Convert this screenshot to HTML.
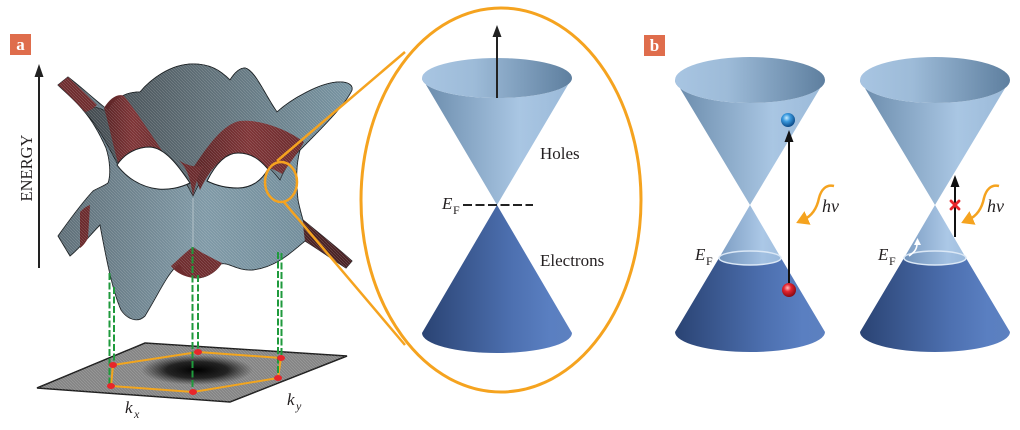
<!DOCTYPE html>
<html><head><meta charset="utf-8"><style>
html,body{margin:0;padding:0;background:#fff;}
svg{display:block;}
text{font-family:"Liberation Serif",serif;fill:#231f20;}
</style></head><body>
<svg width="1020" height="430" viewBox="0 0 1020 430" xmlns="http://www.w3.org/2000/svg">
<defs>
  <linearGradient id="uBody" x1="0" x2="1" y1="0" y2="0">
    <stop offset="0" stop-color="#6a8bab"/><stop offset="0.65" stop-color="#a9c6e3"/><stop offset="1" stop-color="#9ab9d8"/>
  </linearGradient>
  <linearGradient id="uTop" x1="0" x2="1" y1="0" y2="0">
    <stop offset="0" stop-color="#a8c5e2"/><stop offset="0.35" stop-color="#9dbbd8"/><stop offset="1" stop-color="#5e7f9f"/>
  </linearGradient>
  <linearGradient id="lBody" x1="0" x2="1" y1="0" y2="0">
    <stop offset="0" stop-color="#2a4373"/><stop offset="0.6" stop-color="#4d70b0"/><stop offset="0.85" stop-color="#5a7fc1"/><stop offset="1" stop-color="#5c80c0"/>
  </linearGradient>
  <linearGradient id="mBody" x1="0" x2="1" y1="0" y2="0">
    <stop offset="0" stop-color="#7597bf"/><stop offset="0.7" stop-color="#a7c5e5"/><stop offset="1" stop-color="#9dbcdd"/>
  </linearGradient>
  <linearGradient id="ring" x1="0" x2="1" y1="0" y2="0">
    <stop offset="0" stop-color="#2c4676"/><stop offset="1" stop-color="#5a7cbc"/>
  </linearGradient>
  <radialGradient id="blueBall" cx="0.4" cy="0.35" r="0.65">
    <stop offset="0" stop-color="#c8ecff"/><stop offset="0.4" stop-color="#3b9be0"/><stop offset="1" stop-color="#0b4a88"/>
  </radialGradient>
  <radialGradient id="redBall" cx="0.4" cy="0.35" r="0.65">
    <stop offset="0" stop-color="#ffc0c0"/><stop offset="0.4" stop-color="#e52530"/><stop offset="1" stop-color="#8a0a12"/>
  </radialGradient>
  <linearGradient id="sBase" x1="0" x2="1" y1="0" y2="0">
    <stop offset="0" stop-color="#5e6e77"/><stop offset="0.5" stop-color="#7f99a6"/><stop offset="1" stop-color="#6c8896"/>
  </linearGradient>
  <linearGradient id="dome" x1="0" x2="1" y1="0" y2="0">
    <stop offset="0" stop-color="#42494e"/><stop offset="0.45" stop-color="#5f6f77"/><stop offset="1" stop-color="#7895a3"/>
  </linearGradient>
  <linearGradient id="redG" x1="0" x2="1" y1="0" y2="0">
    <stop offset="0" stop-color="#5a2426"/><stop offset="0.5" stop-color="#7e3436"/><stop offset="1" stop-color="#6a2a2c"/>
  </linearGradient>
  <radialGradient id="floorDark" cx="0.5" cy="0.5" r="0.5">
    <stop offset="0" stop-color="#000" stop-opacity="1"/><stop offset="0.55" stop-color="#111" stop-opacity="0.85"/><stop offset="1" stop-color="#222" stop-opacity="0"/>
  </radialGradient>
  <pattern id="mesh" width="3" height="3" patternUnits="userSpaceOnUse">
    <path d="M0,0 L3,3" stroke="#ffffff" stroke-width="0.6" opacity="0.22"/>
  </pattern>
  <marker id="oh" markerWidth="6" markerHeight="6" refX="2" refY="3" orient="auto" markerUnits="strokeWidth">
    <path d="M0,0 L5,3 L0,6 Z" fill="#f5a31f"/>
  </marker>
</defs>

<!-- Panel labels -->
<rect x="10" y="34" width="21" height="21" fill="#df6d4c"/>
<text x="20.5" y="50" font-size="17" font-weight="bold" text-anchor="middle" style="fill:#fff">a</text>
<rect x="644" y="35" width="21" height="21" fill="#df6d4c"/>
<text x="654.5" y="51" font-size="17" font-weight="bold" text-anchor="middle" style="fill:#fff">b</text>

<!-- ENERGY axis -->
<line x1="39" y1="268" x2="39" y2="75" stroke="#222" stroke-width="2"/>
<polygon points="39,64 34.5,77 43.5,77" fill="#222"/>
<text transform="translate(32,168) rotate(-90)" font-size="16.5" text-anchor="middle">ENERGY</text>

<!-- Floor -->
<polygon points="37,388 145,343 347,356 230,402" fill="#858585" stroke="#1e1e1e" stroke-width="1.5"/>
<polygon points="37,388 145,343 347,356 230,402" fill="url(#mesh)"/>
<ellipse cx="197" cy="370" rx="56" ry="15" fill="url(#floorDark)"/>

<!-- Surface -->
<path d="M58,85 L68,77 C80,86 95,100 108,110 C115,98 125,92 140,92 C150,80 170,64 193,64 C210,64 220,70 230,80 C235,72 240,68 245,68 C255,70 265,95 277,112 C290,100 320,82 340,82 C348,82 353,85 352,90 C345,105 322,128 300,150 C296,165 296,180 298,200 C300,210 302,216 303,220 C320,234 340,250 352,261 L346,268 C332,259 318,249 305,241 C292,252 275,268 252,270 C238,271 228,262 221,264 C214,274 204,278 197,278 C188,278 182,270 179,264 C168,272 158,295 145,316 C138,323 128,320 121,310 C112,290 105,252 100,225 C90,235 80,248 70,256 L58,236 C68,222 80,205 93,191 C98,188 104,186 108,183 C111,175 110,160 106,148 C98,130 90,118 83,110 C75,100 65,92 58,85 Z" fill="url(#sBase)" stroke="#1c2124" stroke-width="0.9"/>
<path d="M83,110 C90,104 100,108 108,112 C115,98 125,92 140,92 C150,80 170,64 193,64 C210,64 220,70 230,80 C235,72 240,68 245,68 C255,70 265,95 277,112 C290,100 320,82 340,82 C348,82 353,85 352,90 C345,105 322,128 300,150 C290,160 284,170 280,180 C272,170 260,155 240,152 C222,150 205,170 193,196 C182,175 168,150 150,148 C135,147 123,155 117,163 C110,150 98,125 83,110 Z" fill="url(#dome)" stroke="#1c2124" stroke-width="0.8"/>
<!-- red regions -->
<path d="M58,85 L68,77 C78,86 88,96 97,105 C93,109 89,111 85,112 C76,102 66,92 58,85 Z" fill="#6e2c2e"/>
<path d="M104,108 C110,98 118,93 124,96 C134,108 148,130 163,152 C155,149 145,148 140,150 C132,153 124,158 118,163 C113,145 109,125 104,108 Z" fill="url(#redG)"/>
<path d="M193,168 C205,150 222,124 240,121 C258,119 285,128 304,142 C300,150 292,160 282,174 C276,170 270,168 267,168 C260,160 250,154 237,154 C225,155 212,165 200,190 C197,182 195,175 193,168 Z" fill="url(#redG)"/>
<path d="M178,160 C186,166 190,176 193,196 C196,182 199,172 204,166 C196,168 186,165 178,160 Z" fill="#6a2a2c"/>
<path d="M171,266 C180,258 188,250 193,247 C200,252 212,258 222,263 C216,273 206,278 197,278 C186,278 176,273 171,266 Z" fill="#6e2c2e"/>
<path d="M303,220 C320,234 340,250 352,261 L346,268 C332,259 318,249 305,241 C304,234 303,226 303,220 Z" fill="#4a2224"/>
<path d="M80,212 C84,208 87,206 90,205 L88,238 C86,242 83,246 80,248 Z" fill="#6a2a2c"/>
<!-- mesh texture overlay -->
<path d="M58,85 L68,77 C80,86 95,100 108,110 C115,98 125,92 140,92 C150,80 170,64 193,64 C210,64 220,70 230,80 C235,72 240,68 245,68 C255,70 265,95 277,112 C290,100 320,82 340,82 C348,82 353,85 352,90 C345,105 322,128 300,150 C296,165 296,180 298,200 C300,210 302,216 303,220 C320,234 340,250 352,261 L346,268 C332,259 318,249 305,241 C292,252 275,268 252,270 C238,271 228,262 221,264 C214,274 204,278 197,278 C188,278 182,270 179,264 C168,272 158,295 145,316 C138,323 128,320 121,310 C112,290 105,252 100,225 C90,235 80,248 70,256 L58,236 C68,222 80,205 93,191 C98,188 104,186 108,183 C111,175 110,160 106,148 C98,130 90,118 83,110 C75,100 65,92 58,85 Z" fill="url(#mesh)"/>
<line x1="193" y1="198" x2="193" y2="247" stroke="#b3c2c8" stroke-width="2" opacity="0.5"/>
<!-- holes -->
<path d="M117,165 C125,153 137,147 150,147 C165,148 178,165 190,183 C180,188 168,190 158,189 C140,187 126,177 117,165 Z" fill="#fff" stroke="#1c2124" stroke-width="1"/>
<path d="M207,181 C215,165 225,153 238,153 C252,153 260,160 268,169 C262,180 252,188 238,188 C225,188 215,185 207,181 Z" fill="#fff" stroke="#1c2124" stroke-width="1"/>

<!-- Hexagon -->
<polygon points="111,386 113,365 198,352 281,358 278,378 193,392" fill="none" stroke="#f2a51e" stroke-width="2"/>
<!-- green dashed lines -->
<g stroke="#1f9a3c" stroke-width="2" stroke-dasharray="7,2.5">
  <line x1="109.5" y1="273" x2="109.5" y2="387"/>
  <line x1="114" y1="287" x2="114" y2="367"/>
  <line x1="192.5" y1="247" x2="192.5" y2="392"/>
  <line x1="198" y1="275" x2="198" y2="352"/>
  <line x1="278" y1="252" x2="278" y2="378"/>
  <line x1="281.5" y1="253" x2="281.5" y2="358"/>
</g>
<g fill="#e8262a">
  <ellipse cx="111" cy="386" rx="4" ry="3"/>
  <ellipse cx="113" cy="365" rx="4" ry="3"/>
  <ellipse cx="198" cy="352" rx="4" ry="3"/>
  <ellipse cx="281" cy="358" rx="4" ry="3"/>
  <ellipse cx="278" cy="378" rx="4" ry="3"/>
  <ellipse cx="193" cy="392" rx="4" ry="3"/>
</g>
<text x="125" y="413" font-size="17" font-style="italic">k</text>
<text x="134" y="418" font-size="12" font-style="italic">x</text>
<text x="287" y="405" font-size="17" font-style="italic">k</text>
<text x="296" y="410" font-size="12" font-style="italic">y</text>

<!-- Orange zoom lines -->
<ellipse cx="281" cy="182" rx="16" ry="20" fill="none" stroke="#f5a31f" stroke-width="2.5"/>
<line x1="277" y1="161" x2="405" y2="52" stroke="#f5a31f" stroke-width="2.5"/>
<line x1="283" y1="201" x2="405" y2="345" stroke="#f5a31f" stroke-width="2.5"/>
<ellipse cx="501" cy="200" rx="140" ry="192" fill="#fff" stroke="#f5a31f" stroke-width="3"/>

<!-- Center cone -->
<path d="M422,333 A75,20 0 0 0 572,333 L497,205 Z" fill="url(#lBody)"/>
<path d="M422,78 A75,20 0 0 0 572,78 L497,205 Z" fill="url(#uBody)"/>
<ellipse cx="497" cy="78" rx="75" ry="20" fill="url(#uTop)"/>
<line x1="497" y1="98" x2="497" y2="35" stroke="#222" stroke-width="2"/>
<polygon points="497,25 492.5,37 501.5,37" fill="#222"/>
<line x1="463" y1="205" x2="533" y2="205" stroke="#222" stroke-width="2" stroke-dasharray="9,3.5"/>
<text x="442" y="209" font-size="17" font-style="italic">E</text>
<text x="453" y="214" font-size="12">F</text>
<text x="540" y="159" font-size="17">Holes</text>
<text x="540" y="266" font-size="17">Electrons</text>

<!-- Panel b, cone 1 -->
<path d="M719,258 L675,332 A75,20 0 0 0 825,332 L781,258 A31,7 0 0 1 719,258 Z" fill="url(#lBody)"/>
<ellipse cx="750" cy="258" rx="31" ry="7" fill="url(#ring)"/>
<path d="M750,205 L719,258 A31,7 0 0 0 781,258 Z" fill="url(#mBody)" opacity="0.95"/>
<ellipse cx="750" cy="258" rx="31" ry="7" fill="none" stroke="#dbe8f6" stroke-width="1.5"/>
<path d="M675,80 A75,23 0 0 0 825,80 L750,205 Z" fill="url(#uBody)"/>
<ellipse cx="750" cy="80" rx="75" ry="23" fill="url(#uTop)"/>
<line x1="789" y1="290" x2="789" y2="141" stroke="#111" stroke-width="2"/>
<polygon points="789,130 784.5,142 793.5,142" fill="#111"/>
<circle cx="788" cy="120" r="7" fill="url(#blueBall)"/>
<circle cx="789" cy="290" r="7" fill="url(#redBall)"/>
<path d="M834,186 C826,184 821,190 819,198 C817,208 812,216 803,220" fill="none" stroke="#f5a31f" stroke-width="2.5" marker-end="url(#oh)"/>
<text x="822" y="212" font-size="18" font-style="italic">hν</text>
<text x="695" y="260" font-size="17" font-style="italic">E</text>
<text x="706" y="265" font-size="12">F</text>

<!-- Panel b, cone 2 -->
<path d="M904,258 L860,332 A75,20 0 0 0 1010,332 L966,258 A31,7 0 0 1 904,258 Z" fill="url(#lBody)"/>
<ellipse cx="935" cy="258" rx="31" ry="7" fill="url(#ring)"/>
<path d="M935,205 L904,258 A31,7 0 0 0 966,258 Z" fill="url(#mBody)" opacity="0.95"/>
<ellipse cx="935" cy="258" rx="31" ry="7" fill="none" stroke="#dbe8f6" stroke-width="1.5"/>
<path d="M860,80 A75,23 0 0 0 1010,80 L935,205 Z" fill="url(#uBody)"/>
<ellipse cx="935" cy="80" rx="75" ry="23" fill="url(#uTop)"/>
<line x1="955" y1="237" x2="955" y2="186" stroke="#111" stroke-width="2"/>
<polygon points="955,175 950.5,187 959.5,187" fill="#111"/>
<g stroke="#e8262a" stroke-width="2.8" stroke-linecap="round">
  <line x1="951" y1="201" x2="959" y2="209"/>
  <line x1="959" y1="201" x2="951" y2="209"/>
</g>
<path d="M909,256 C913,253 917,250 917,244" fill="none" stroke="#fff" stroke-width="1.6"/>
<polygon points="917.5,238 914,245 921,245" fill="#fff"/>
<path d="M999,186 C991,184 986,190 984,198 C982,208 977,216 968,220" fill="none" stroke="#f5a31f" stroke-width="2.5" marker-end="url(#oh)"/>
<text x="987" y="212" font-size="18" font-style="italic">hν</text>
<text x="878" y="260" font-size="17" font-style="italic">E</text>
<text x="889" y="265" font-size="12">F</text>
</svg>
</body></html>
